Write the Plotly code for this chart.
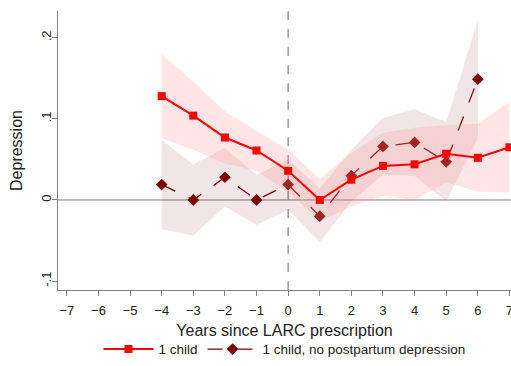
import plotly.graph_objects as go

# --- Data ------------------------------------------------------------------
years = [-4, -3, -2, -1, 0, 1, 2, 3, 4, 5, 6, 7]
one_child = [0.128, 0.104, 0.077, 0.061, 0.036, 0.000, 0.025, 0.042, 0.044, 0.057, 0.052, 0.065]
one_child_hi = [0.180, 0.146, 0.109, 0.086, 0.062, 0.026, 0.058, 0.083, 0.089, 0.092, 0.094, 0.121]
one_child_lo = [0.076, 0.062, 0.045, 0.036, 0.010, -0.026, -0.008, 0.005, 0.000, 0.022, 0.010, 0.009]

years_nopp = [-4, -3, -2, -1, 0, 1, 2, 3, 4, 5, 6]
no_pp = [0.019, 0.000, 0.028, 0.000, 0.019, -0.020, 0.030, 0.066, 0.071, 0.047, 0.149]
no_pp_hi = [0.074, 0.044, 0.064, 0.031, 0.050, 0.014, 0.062, 0.101, 0.112, 0.096, 0.222]
no_pp_lo = [-0.036, -0.044, -0.008, -0.031, -0.012, -0.052, -0.002, 0.031, 0.030, -0.002, 0.076]

x_ticks = list(range(-7, 8))
y_ticks = [-0.1, 0, 0.1, 0.2]
y_ticklabels = ["-.1", "0", ".1", ".2"]

red = "#FF0000"
maroon = "#800000"

fig = go.Figure()

# CI band, no postpartum depression (drawn first, underneath)
fig.add_trace(go.Scatter(
    x=years_nopp + years_nopp[::-1],
    y=no_pp_hi + no_pp_lo[::-1],
    fill="toself", fillcolor="rgba(128,0,0,0.10)",
    line=dict(width=0), mode="lines", hoverinfo="skip", showlegend=False,
))
fig.add_trace(go.Scatter(
    x=years_nopp, y=no_pp, mode="lines+markers",
    name="1 child, no postpartum depression",
    line=dict(color=maroon, width=1.3, dash="longdash"),
    marker=dict(symbol="diamond", size=9, color=maroon),
))

# CI band, 1 child (semi-transparent, over the other series)
fig.add_trace(go.Scatter(
    x=years + years[::-1],
    y=one_child_hi + one_child_lo[::-1],
    fill="toself", fillcolor="rgba(255,150,150,0.25)",
    line=dict(width=0), mode="lines", hoverinfo="skip", showlegend=False,
))
fig.add_trace(go.Scatter(
    x=years, y=one_child, mode="lines+markers", name="1 child",
    line=dict(color=red, width=2),
    marker=dict(symbol="square", size=8, color=red),
))

# reference lines
fig.add_hline(y=0, line=dict(color="#808080", width=1), layer="below")
fig.add_vline(x=0, line=dict(color="#808080", width=1.2, dash="dash"), layer="below")

fig.update_layout(
    width=511, height=366,
    margin=dict(l=58, r=0, t=11, b=76),
    plot_bgcolor="white", paper_bgcolor="white",
    font=dict(family="Liberation Sans, Arial, sans-serif", size=13, color="#222"),
    showlegend=True,
    # legend kept inside the bottom margin so it does not push the plot area up
    legend=dict(orientation="h", x=0.5, xanchor="center", y=-0.268, yanchor="bottom",
                traceorder="reversed", font=dict(size=13.5), itemwidth=50),
    xaxis=dict(
        range=[-7.28, 7.05], tickvals=x_ticks, showgrid=False, zeroline=False,
        showline=True, linecolor="#808080", linewidth=1.2, automargin=False,
        ticks="outside", ticklen=5, tickcolor="#808080", ticklabelstandoff=3,
        ticklabeloverflow="allow",
        title=dict(text="Years since LARC prescription", standoff=8),
    ),
    yaxis=dict(
        range=[-0.111, 0.233], tickvals=y_ticks, ticktext=y_ticklabels,
        tickangle=-90, showgrid=False, zeroline=False, automargin=False,
        showline=True, linecolor="#808080", linewidth=1.2,
        ticks="outside", ticklen=5, tickcolor="#808080", ticklabelstandoff=-4,
        title=dict(text="Depression", standoff=12),
    ),
)

# drop the default body margin so the figure fills the window exactly
page_fix = (
    "document.body.style.margin='0';"
    "document.body.style.overflow='hidden';"
    "document.documentElement.style.overflow='hidden';"
)
fig.write_html("out.html", config={"displayModeBar": False}, post_script=page_fix)
